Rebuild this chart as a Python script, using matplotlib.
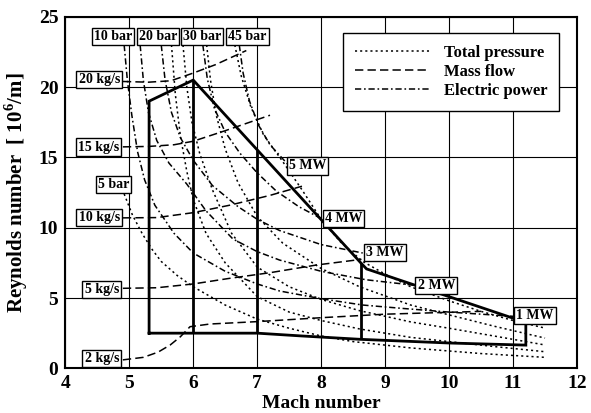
import matplotlib
matplotlib.use("Agg")
import matplotlib.pyplot as plt
from matplotlib.lines import Line2D

plt.rcParams['font.family'] = ['Liberation Serif', 'DejaVu Serif']
plt.rcParams['font.weight'] = 'bold'
plt.rcParams['mathtext.fontset'] = 'custom'
plt.rcParams['mathtext.rm'] = 'Liberation Serif:bold'
plt.rcParams['mathtext.bf'] = 'Liberation Serif:bold'
plt.rcParams['lines.scale_dashes'] = False

# total pressure lines (dotted)
p5_x = [4.92, 5.05, 5.2, 5.35, 5.5, 5.75, 6.0, 6.5, 7.0, 7.5, 8.0, 8.5, 9.4, 10.5, 11.5]
p5_y = [12.4, 10.9, 9.6, 8.5, 7.6, 6.6, 5.8, 4.5, 3.5, 2.85, 2.3, 1.9, 1.45, 1.05, 0.78]
p10_x = [5.66, 5.72, 5.8, 5.9, 6.0, 6.2, 6.5, 7.0, 7.5, 8.0, 8.6, 9.4, 10.0, 10.7, 11.5]
p10_y = [23.0, 19.5, 16.5, 14.0, 12.0, 9.6, 7.5, 5.1, 4.0, 3.4, 2.8, 2.2, 1.9, 1.55, 1.18]
p20_x = [5.84, 5.9, 5.98, 6.1, 6.3, 6.6, 7.0, 7.5, 8.0, 8.6, 9.4, 10.0, 10.7, 11.5]
p20_y = [23.0, 20.0, 17.5, 15.3, 12.7, 9.6, 7.2, 5.8, 4.9, 4.1, 3.3, 2.85, 2.3, 1.66]
p30_x = [6.21, 6.27, 6.36, 6.5, 6.7, 7.0, 7.4, 8.0, 8.6, 9.4, 10.0, 10.7, 11.5]
p30_y = [23.0, 20.5, 18.0, 15.6, 13.2, 10.8, 8.9, 7.1, 5.8, 4.5, 3.8, 3.0, 2.15]
p45_x = [6.65, 6.75, 6.9, 7.1, 7.4, 7.7, 8.0, 8.3, 8.65, 9.0, 9.4, 10.0, 10.5, 11.0, 11.5]
p45_y = [23.0, 20.8, 18.6, 16.6, 14.7, 12.7, 10.6, 9.0, 7.6, 6.7, 5.8, 4.8, 4.05, 3.4, 2.86]

# mass flow lines (dashed)
m2_x = [4.9, 5.22, 5.45, 5.64, 5.8, 5.95, 6.26, 7.0, 8.0, 9.0, 10.5]
m2_y = [0.6, 0.78, 1.15, 1.66, 2.25, 2.96, 3.15, 3.32, 3.6, 3.85, 4.05]
m5_x = [4.9, 5.43, 6.0, 6.57, 7.2, 7.93, 8.63]
m5_y = [5.69, 5.73, 6.0, 6.4, 6.8, 7.35, 7.75]
m10_x = [4.9, 5.43, 6.0, 6.57, 7.2, 7.7]
m10_y = [10.7, 10.72, 11.07, 11.6, 12.3, 12.95]
m15_x = [4.9, 5.3, 5.7, 6.0, 6.5, 7.2]
m15_y = [15.75, 15.78, 15.9, 16.15, 16.9, 18.0]
m20_x = [4.9, 5.3, 5.65, 6.0, 6.35, 6.83]
m20_y = [20.4, 20.35, 20.45, 21.0, 21.6, 22.6]

# electric power lines (dash-dot)
w1_x = [4.92, 4.97, 5.04, 5.13, 5.24, 5.4, 5.7, 6.0, 6.5, 7.0, 7.35, 8.0, 8.65, 9.3, 10.0, 11.0]
w1_y = [23.0, 20.5, 18.0, 15.4, 13.4, 11.6, 9.6, 8.2, 6.9, 6.0, 5.5, 4.95, 4.5, 4.25, 4.0, 3.7]
w2_x = [5.17, 5.22, 5.3, 5.43, 5.62, 5.9, 6.2, 6.62, 7.0, 7.35, 8.0, 8.7, 9.47]
w2_y = [23.0, 20.5, 18.2, 16.2, 14.6, 13.1, 11.2, 9.2, 8.3, 7.7, 6.9, 6.3, 5.9]
w3_x = [5.5, 5.56, 5.66, 5.8, 6.0, 6.3, 6.7, 7.0, 7.35, 8.0, 8.65]
w3_y = [23.0, 20.5, 18.2, 16.4, 14.8, 13.0, 11.5, 10.6, 9.8, 8.8, 8.2]
w4_x = [6.15, 6.22, 6.33, 6.5, 6.73, 7.0, 7.3, 7.65, 8.0]
w4_y = [23.0, 20.6, 18.5, 16.8, 15.3, 13.9, 12.6, 11.5, 10.65]
w5_x = [6.72, 6.78, 6.88, 7.02, 7.2, 7.48]
w5_y = [23.0, 21.0, 19.0, 17.3, 15.9, 14.5]

# operating envelope (thick)
env_x = [5.31, 5.31, 6.0, 8.62, 8.71, 11.2, 11.2, 10.0, 8.62, 7.7, 7.0, 5.31]
env_y = [2.5, 19.0, 20.5, 7.5, 7.07, 3.26, 1.65, 1.8, 2.06, 2.3, 2.5, 2.5]
vert_x = [6.0, 7.0, 8.62]
vert_lo = [2.5, 2.5, 2.06]
vert_hi = [20.5, 15.5, 7.5]

labels = ['10 bar', '20 bar', '30 bar', '45 bar', '5 bar',
          '20 kg/s', '15 kg/s', '10 kg/s', '5 kg/s', '2 kg/s',
          '5 MW', '4 MW', '3 MW', '2 MW', '1 MW']
label_x = [4.75, 5.45, 6.14, 6.85, 4.75,
           4.53, 4.52, 4.53, 4.57, 4.57,
           7.79, 8.35, 9.0, 9.8, 11.34]
label_y = [23.6, 23.6, 23.6, 23.6, 13.07,
           20.55, 15.74, 10.73, 5.6, 0.7,
           14.39, 10.65, 8.24, 5.89, 3.76]

dot = (0, (1.5, 2.2))
dash = (0, (6, 3))
dashdot = (0, (4.5, 2, 1.2, 2))

fig = plt.figure(figsize=(5.91, 4.13), dpi=100)
ax = fig.add_axes([0.1105, 0.1082, 0.8658, 0.8511])

for xs, ys in [(p5_x, p5_y), (p10_x, p10_y), (p20_x, p20_y), (p30_x, p30_y), (p45_x, p45_y)]:
    ax.plot(xs, ys, color='black', lw=1.1, linestyle=dot, zorder=3)
for xs, ys in [(m2_x, m2_y), (m5_x, m5_y), (m10_x, m10_y), (m15_x, m15_y), (m20_x, m20_y)]:
    ax.plot(xs, ys, color='black', lw=1.1, linestyle=dash, zorder=3)
for xs, ys in [(w1_x, w1_y), (w2_x, w2_y), (w3_x, w3_y), (w4_x, w4_y), (w5_x, w5_y)]:
    ax.plot(xs, ys, color='black', lw=1.1, linestyle=dashdot, zorder=3)

ax.plot(env_x, env_y, color='black', lw=2.0, zorder=4, solid_joinstyle='miter')
ax.vlines(vert_x, vert_lo, vert_hi, color='black', lw=2.0, zorder=4)

for t, x, y in zip(labels, label_x, label_y):
    ax.text(x, y, t, ha='center', va='center', fontsize=10, fontweight='bold', zorder=6,
            bbox=dict(boxstyle='square,pad=0.15', fc='white', ec='black', lw=1.0))

ax.set_xlim(4, 12)
ax.set_ylim(0, 25)
ax.set_xticks(range(4, 13))
ax.set_yticks([0, 5, 10, 15, 20, 25])
ax.grid(True, color='black', lw=0.8, zorder=0)
ax.set_axisbelow(True)
ax.tick_params(length=0, labelsize=14, pad=5)
for s in ax.spines.values():
    s.set_linewidth(1.5)

ax.set_xlabel('Mach number', fontsize=14, fontweight='bold', labelpad=2)
ax.set_ylabel('Reynolds number  [ 10$^{6}$/m]', fontsize=15, fontweight='bold', labelpad=6)

handles = [Line2D([], [], color='black', lw=1.1, linestyle=dot),
           Line2D([], [], color='black', lw=1.1, linestyle=dash),
           Line2D([], [], color='black', lw=1.1, linestyle=dashdot)]
leg = ax.legend(handles, ['Total pressure', 'Mass flow', 'Electric power'],
                loc='upper right', bbox_to_anchor=(0.965, 0.954), borderaxespad=0,
                fancybox=False, framealpha=1, edgecolor='black', handlelength=4.5,
                labelspacing=0.2, borderpad=0.7, handletextpad=0.85,
                prop={'size': 12, 'weight': 'bold'})
leg.get_frame().set_linewidth(1.0)
leg.set_zorder(7)

fig.savefig('out.png', dpi=100)
